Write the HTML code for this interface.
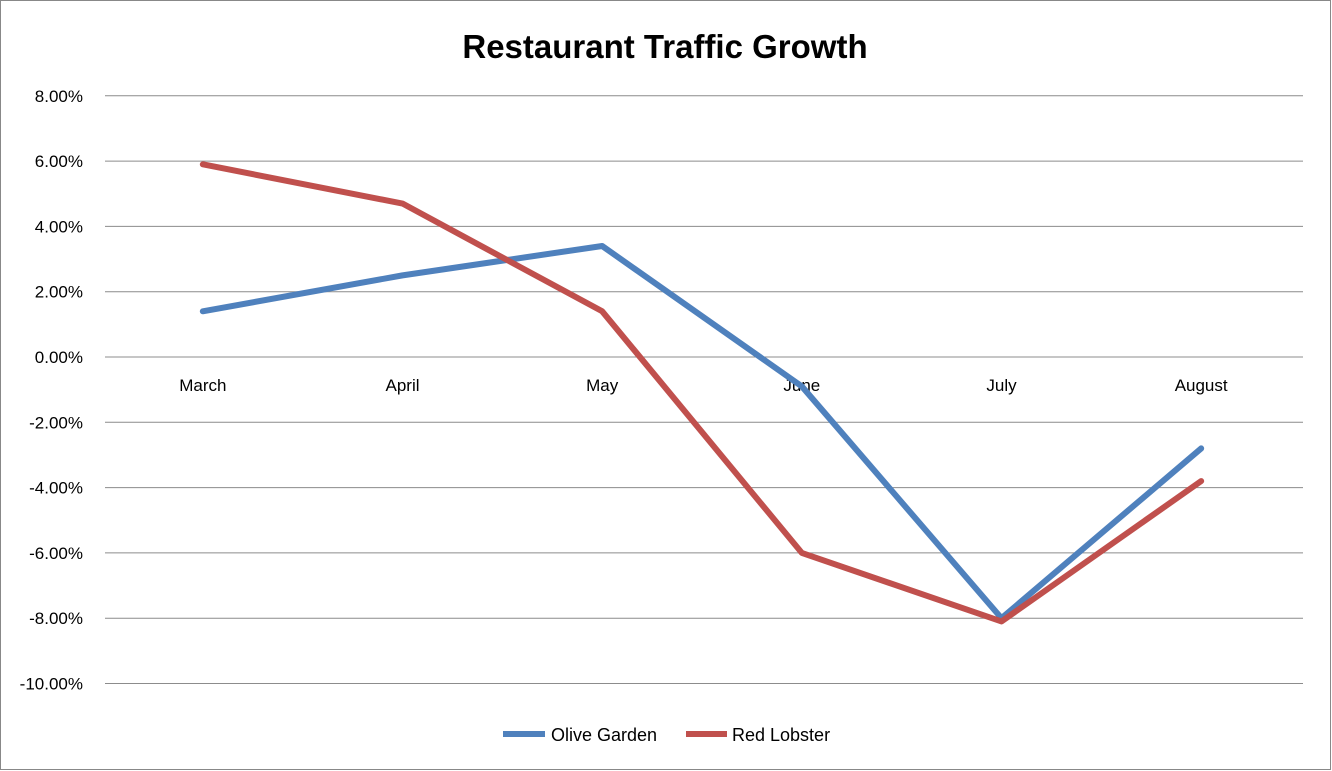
<!DOCTYPE html>
<html><head><meta charset="utf-8"><style>
html,body{margin:0;padding:0;background:#fff}
svg{display:block;font-family:"Liberation Sans",sans-serif}
</style></head><body>
<svg id="chart" width="1332" height="771">
<rect x="0.5" y="0.5" width="1330" height="769" fill="#fff" stroke="#888"/>
<text x="665" y="58" text-anchor="middle" font-size="33" font-weight="bold">Restaurant Traffic Growth</text>
<g id="grid"></g><g id="xlabels"></g><g id="series"></g>
<g>
<line x1="503" y1="734" x2="545" y2="734" stroke="#4F81BD" stroke-width="6"/>
<text x="551" y="741" font-size="18">Olive Garden</text>
<line x1="686" y1="734" x2="727" y2="734" stroke="#C0504D" stroke-width="6"/>
<text x="732" y="741" font-size="18">Red Lobster</text>
</g>
</svg>
<script>
const categories=["March","April","May","June","July","August"];
const oliveGarden=[1.4,2.5,3.4,-0.9,-8.0,-2.8];
const redLobster=[5.9,4.7,1.4,-6.0,-8.1,-3.8];
const yTicks=[8,6,4,2,0,-2,-4,-6,-8,-10];
const NS="http://www.w3.org/2000/svg";
const x0=105,x1=1303;
function y(v){return 357-v*32.65;}
function x(i){return x0+(x1-x0)/categories.length*(i+0.5)-2;}
const grid=document.getElementById('grid');
yTicks.forEach(t=>{
 const l=document.createElementNS(NS,'line');
 l.setAttribute('x1',x0);l.setAttribute('x2',x1);l.setAttribute('y1',y(t));l.setAttribute('y2',y(t));
 l.setAttribute('stroke','#8c8c8c');l.setAttribute('stroke-width','1');
 
 
 grid.appendChild(l);
 const tx=document.createElementNS(NS,'text');
 tx.setAttribute('x',83);tx.setAttribute('y',y(t)+6);tx.setAttribute('text-anchor','end');tx.setAttribute('font-size','17');
 tx.textContent=t.toFixed(2)+'%';
 
 
 grid.appendChild(tx);
});
const xl=document.getElementById('xlabels');
categories.forEach((c,i)=>{
 const tx=document.createElementNS(NS,'text');
 tx.setAttribute('x',x(i));tx.setAttribute('y',391);tx.setAttribute('text-anchor','middle');tx.setAttribute('font-size','17');
 tx.textContent=c;
 
 
 xl.appendChild(tx);
});
const sg=document.getElementById('series');
[[oliveGarden,'#4F81BD','olive-garden'],[redLobster,'#C0504D','red-lobster']].forEach(([d,c,n])=>{
 const p=document.createElementNS(NS,'polyline');
 p.setAttribute('points',d.map((v,i)=>x(i)+','+y(v)).join(' '));
 p.setAttribute('fill','none');p.setAttribute('stroke',c);p.setAttribute('stroke-width','6');
 p.setAttribute('stroke-linejoin','round');p.setAttribute('stroke-linecap','round');
 
 
 sg.appendChild(p);
});
</script>
</body></html>
